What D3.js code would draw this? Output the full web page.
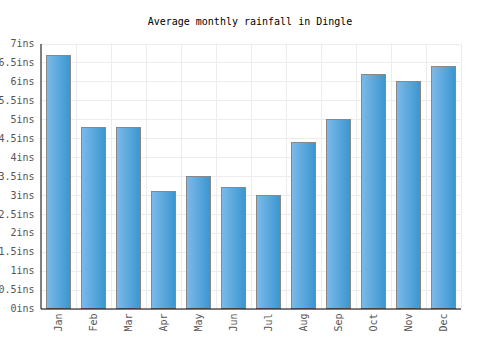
<html>
<head>
    <script src="https://d3js.org/d3.v7.min.js"></script>
    <style type="text/css">
        body { margin: 0; background: #fff; }
        text { font-family: "DejaVu Sans Mono", monospace; }
        .tick text { fill: #555; font-size: 10px; }
        .grid line { stroke: #ececec; stroke-width: 1; }
        rect.bar { stroke: #888; stroke-width: 1; }
    </style>
</head>
<body>
    <svg></svg>
    <script>
        const months = ["Jan", "Feb", "Mar", "Apr", "May", "Jun", "Jul", "Aug", "Sep", "Oct", "Nov", "Dec"];
        const rainfall = [6.7, 4.8, 4.8, 3.1, 3.5, 3.2, 3.0, 4.4, 5.0, 6.2, 6.0, 6.4];
        const yTicks = [0, 0.5, 1, 1.5, 2, 2.5, 3, 3.5, 4, 4.5, 5, 5.5, 6, 6.5, 7];
        const title = "Average monthly rainfall in Dingle";

        const W = 500, H = 350;
        const plotLeft = 40.5, plotRight = 460.5, plotTop = 43.5, plotBottom = 308.5;

        var svg = d3.select("svg").attr("width", W).attr("height", H);

        var defs = svg.append("defs");
        var grad = defs.append("linearGradient").attr("id", "barGrad")
            .attr("x1", "0%").attr("x2", "100%").attr("y1", "0%").attr("y2", "0%");
        grad.append("stop").attr("offset", "0%").attr("stop-color", "#7cbaea");
        grad.append("stop").attr("offset", "100%").attr("stop-color", "#3a96cf");

        var x = d3.scaleBand().domain(months).range([plotLeft, plotRight]).paddingInner(0.32).paddingOuter(0.16);
        var xGrid = d3.scaleBand().domain(months).range([plotLeft, plotRight]);
        var y = d3.scaleLinear().domain([0, 7]).range([plotBottom, plotTop]);

        // grid
        var grid = svg.append("g").attr("class", "grid");
        grid.selectAll("line.h").data(yTicks).enter().append("line")
            .attr("x1", plotLeft).attr("x2", plotRight)
            .attr("y1", d => Math.round(y(d)) + 0.5).attr("y2", d => Math.round(y(d)) + 0.5);
        grid.selectAll("line.v").data(months).enter().append("line")
            .attr("x1", d => Math.round(xGrid(d) + xGrid.bandwidth()) + 0.5)
            .attr("x2", d => Math.round(xGrid(d) + xGrid.bandwidth()) + 0.5)
            .attr("y1", plotTop).attr("y2", plotBottom);

        // bars
        svg.selectAll("rect.bar").data(rainfall).enter().append("rect").classed("bar", true)
            .attr("x", (d, i) => Math.round(x(months[i])) + 0.5)
            .attr("width", Math.round(x.bandwidth()))
            .attr("y", d => Math.round(y(d)) + 0.5)
            .attr("height", d => plotBottom - Math.round(y(d)) - 0.5)
            .attr("fill", "url(#barGrad)");

        // axes
        var yAxis = svg.append("g").attr("transform", "translate(" + plotLeft + ",0)")
            .call(d3.axisLeft(y).tickValues(yTicks).tickSize(0).tickPadding(6).tickFormat(d => d + "ins"));
        yAxis.select(".domain").attr("stroke", "#000");

        var xAxis = svg.append("g").attr("transform", "translate(0," + plotBottom + ")")
            .call(d3.axisBottom(xGrid).tickSize(0).tickPadding(0));
        xAxis.select(".domain").attr("stroke", "#000");
        xAxis.selectAll(".tick text")
            .attr("transform", "rotate(-90)")
            .attr("text-anchor", "end")
            .attr("x", -5).attr("y", 0).attr("dy", "0.35em");

        svg.append("text")
            .attr("x", 250).attr("y", 25)
            .attr("text-anchor", "middle")
            .attr("font-size", 10)
            .attr("fill", "#000")
            .text(title);
    </script>
</body>
</html>
